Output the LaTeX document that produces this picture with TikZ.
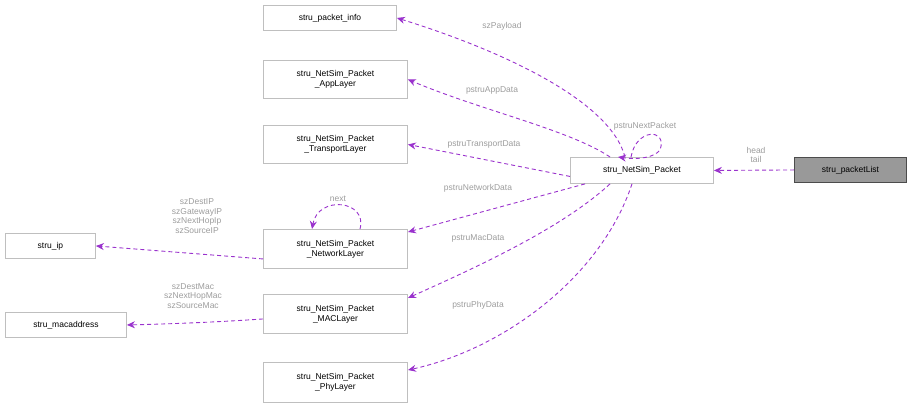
\documentclass[tikz,border=0pt]{standalone}
\usepackage{fontspec}
\setmainfont{Liberation Sans}
\usetikzlibrary{arrows.meta}
\definecolor{edge}{HTML}{9A32CD}
\definecolor{bord}{HTML}{BFBFBF}
\definecolor{lbl}{HTML}{9C9C9C}
\begin{document}
\begin{tikzpicture}[x=1pt,y=-1pt,
  box/.style={draw=bord,line width=0.9pt,fill=white,font=\fontsize{8.5}{10}\selectfont,align=center,anchor=north west,inner sep=0pt},
  rel/.style={draw=edge,line width=0.9pt,dash pattern=on 4pt off 3pt,-{Stealth[length=8pt,width=7pt]}},
  lab/.style={text=lbl,font=\fontsize{8.5}{9.5}\selectfont,align=center,inner sep=0pt}]
\useasboundingbox (0,0) rectangle (910,411);
\newcommand{\bx}[6]{\node[box,minimum width=#4-#2,minimum height=#5-#3] (#1) at (#2,#3) {#6};}
\node[draw=black!70,line width=0.9pt,fill=black!40,anchor=north west,minimum width=112,minimum height=25,inner sep=0pt,font=\fontsize{8.5}{10}\selectfont] (list) at (794,157) {stru\_packetList};
\bx{pkt}{570}{157}{713}{183}{stru\_NetSim\_Packet}
\bx{info}{263}{5}{396}{30}{stru\_packet\_info}
\bx{app}{263}{60}{407}{98}{stru\_NetSim\_Packet\\\_AppLayer}
\bx{tr}{263}{125}{407}{163}{stru\_NetSim\_Packet\\\_TransportLayer}
\bx{net}{263}{229}{407}{268}{stru\_NetSim\_Packet\\\_NetworkLayer}
\bx{mac}{263}{294}{407}{333}{stru\_NetSim\_Packet\\\_MACLayer}
\bx{phy}{263}{362}{407}{402}{stru\_NetSim\_Packet\\\_PhyLayer}
\bx{ip}{5}{233}{95}{258}{stru\_ip}
\bx{ma}{5}{312}{126}{337}{stru\_macaddress}

\draw[rel] (list.west) -- (pkt.east);
\node[lab] at (756,155) {head\\tail};
\draw[rel] (pkt.north west) ++(55,0) coordinate (a1) (a1) .. controls (610,100) and (500,50) .. (info.east);
\node[lab] at (502,26) {szPayload};
\draw[rel] (pkt.north west) ++(40,0) coordinate (a2) (a2) .. controls (570,130) and (480,110) .. (app.east);
\node[lab] at (492,90) {pstruAppData};
\draw[rel] (pkt.west) ++(0,6) coordinate (a3) (a3) -- (tr.east);
\node[lab] at (484,144) {pstruTransportData};
\draw[rel] (pkt.south west) ++(15,0) coordinate (a4) (a4) -- (408,232);
\node[lab] at (478,188) {pstruNetworkData};
\draw[rel] (pkt.south west) ++(40,0) coordinate (a5) (a5) .. controls (560,230) and (470,270) .. (408,298);
\node[lab] at (478,238) {pstruMacData};
\draw[rel] (pkt.south west) ++(62,0) coordinate (a6) (a6) .. controls (600,280) and (500,350) .. (408,370);
\node[lab] at (478,305) {pstruPhyData};
\coordinate (l1) at (618,157); \coordinate (l2) at (631,157);
\draw[rel] (l2) .. controls (636,128) and (668,128) .. (660,150) .. controls (655,157) and (640,160) .. (l1);
\node[lab] at (645,126) {pstruNextPacket};
\coordinate (n1) at (312,229); \coordinate (n2) at (360,229);
\draw[rel] (n2) .. controls (368,200) and (318,195) .. (n1);
\node[lab] at (338,199) {next};
\draw[rel] (net.west) ++(0,10) coordinate (a7) (a7) -- (ip.east);
\node[lab] at (197,216) {szDestIP\\szGatewayIP\\szNextHopIp\\szSourceIP};
\draw[rel] (mac.west) ++(0,5) coordinate (a8) (a8) .. controls (220,322) and (170,324) .. (ma.east);
\node[lab] at (193,296) {szDestMac\\szNextHopMac\\szSourceMac};
\end{tikzpicture}
\end{document}
